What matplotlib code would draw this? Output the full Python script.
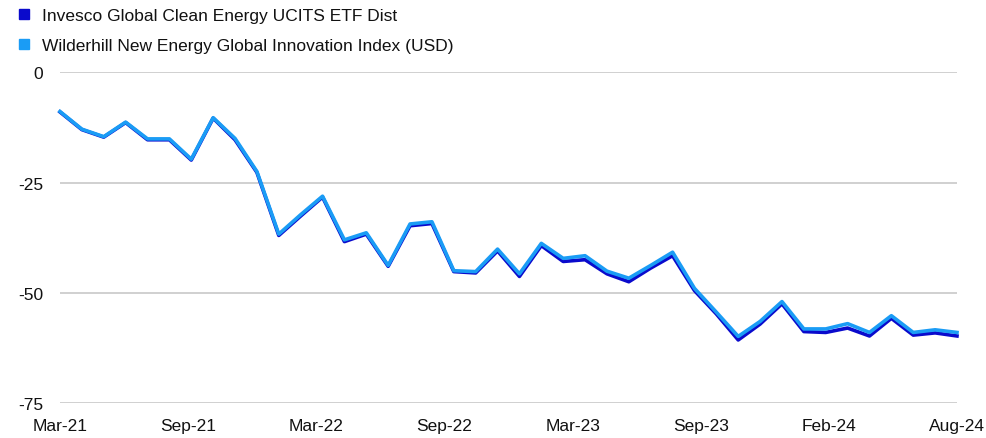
import matplotlib
matplotlib.use("Agg")
import matplotlib.pyplot as plt
from matplotlib.lines import Line2D
import numpy as np

plt.rcParams['font.family'] = ['Liberation Sans', 'DejaVu Sans']

months = ["Mar-21", "Apr-21", "May-21", "Jun-21", "Jul-21", "Aug-21", "Sep-21", "Oct-21", "Nov-21", "Dec-21",
          "Jan-22", "Feb-22", "Mar-22", "Apr-22", "May-22", "Jun-22", "Jul-22", "Aug-22", "Sep-22", "Oct-22",
          "Nov-22", "Dec-22", "Jan-23", "Feb-23", "Mar-23", "Apr-23", "May-23", "Jun-23", "Jul-23", "Aug-23",
          "Sep-23", "Oct-23", "Nov-23", "Dec-23", "Jan-24", "Feb-24", "Mar-24", "Apr-24", "May-24", "Jun-24",
          "Jul-24", "Aug-24"]

etf = [-9.0, -13.0, -14.7, -11.4, -15.3, -15.3, -19.9, -10.4, -15.3, -22.7,
       -37.0, -32.6, -28.3, -38.4, -36.7, -44.0, -34.8, -34.3, -45.2, -45.5,
       -40.5, -46.3, -39.3, -42.9, -42.5, -45.7, -47.5, -44.4, -41.6, -49.5,
       -54.8, -60.7, -57.1, -52.5, -58.8, -59.0, -58.0, -59.8, -55.8, -59.6,
       -59.1, -59.8]

index = [-8.9, -12.9, -14.6, -11.3, -15.1, -15.1, -19.7, -10.3, -15.0, -22.5,
         -36.7, -32.3, -28.1, -38.0, -36.4, -43.8, -34.4, -33.9, -45.0, -45.2,
         -40.1, -45.7, -38.8, -42.2, -41.6, -45.1, -46.7, -43.8, -40.8, -49.0,
         -54.4, -59.9, -56.5, -52.0, -58.2, -58.2, -57.0, -59.0, -55.2, -59.0,
         -58.4, -59.0]

tick_labels = ["Mar-21", "Sep-21", "Mar-22", "Sep-22", "Mar-23", "Sep-23", "Feb-24", "Aug-24"]
y_ticks = [0, -25, -50, -75]

series_names = ["Invesco Global Clean Energy UCITS ETF Dist",
                "Wilderhill New Energy Global Innovation Index (USD)"]
colors = ["#0A0ACC", "#1A9CF5"]

W, H = 986, 439
fig = plt.figure(figsize=(W / 100, H / 100), dpi=100)
ax = fig.add_axes([60 / W, (H - 404) / H, (957 - 60) / W, (404 - 73.3) / H])

x = np.arange(len(months))
ax.plot(x, etf, color=colors[0], lw=2.6, clip_on=False, zorder=3)
ax.plot(x, index, color=colors[1], lw=2.6, clip_on=False, zorder=4)

ax.set_xlim(0, len(months) - 1)
ax.set_ylim(-75, 0)
ax.set_yticks(y_ticks)
ax.set_yticklabels([str(v) for v in y_ticks])
n = len(tick_labels)
ax.set_xticks([k * (len(months) - 1) / (n - 1) for k in range(n)])
ax.set_xticklabels(tick_labels)

ax.grid(axis='y', color='#C8C8C8', lw=1.2)
ax.set_axisbelow(True)
for s in ax.spines.values():
    s.set_visible(False)
ax.tick_params(axis='both', length=0, labelsize=12.5, colors='#111111')
ax.tick_params(axis='y', pad=12)
ax.tick_params(axis='x', pad=11)

handles = [Line2D([], [], marker='s', color=c, ls='none', markersize=7) for c in colors]
fig.legend(handles, series_names, loc='upper left', bbox_to_anchor=(4 / W, 1 - 2 / H),
           frameon=False, fontsize=12.5, handletextpad=0.3, labelspacing=0.85,
           borderaxespad=0, handlelength=1.5, labelcolor='#111111')

fig.savefig("out.png", dpi=100)
